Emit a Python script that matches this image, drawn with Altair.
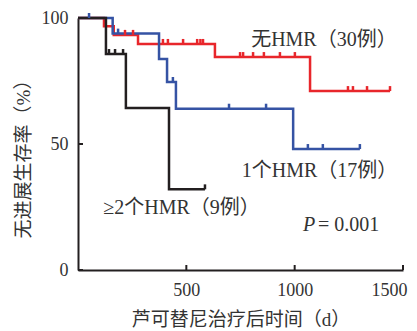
import altair as alt
import pandas as pd

# ---- data ----
groups = ["无HMR", "1个HMR", "≥2个HMR"]
colors = ["#e8262b", "#3553a4", "#231f20"]

# Kaplan-Meier step points (time in days, survival %)
red_t = [0, 120, 165, 277, 632, 1071, 1440]
red_s = [100, 96.7, 93.3, 89.7, 84.5, 71.0, 71.0]
blue_t = [0, 160, 374, 411, 452, 993, 1301]
blue_s = [100, 93.8, 83.7, 74.6, 64.0, 48.0, 48.0]
black_t = [0, 129, 221, 420, 586]
black_s = [100, 85.7, 64.3, 32.0, 32.0]

# censor marks
red_ct = [217, 254, 392, 415, 485, 550, 565, 577, 748, 762, 808, 858, 932, 1001, 1246, 1269, 1334, 1440]
red_cs = [93.3, 93.3, 89.7, 89.7, 89.7, 89.7, 89.7, 89.7, 84.5, 84.5, 84.5, 84.5, 84.5, 84.5, 71.0, 71.0, 71.0, 71.0]
blue_ct = [51, 185, 438, 697, 868, 1061, 1130, 1301]
blue_cs = [100, 93.8, 74.6, 64.0, 64.0, 48.0, 48.0, 48.0]
black_ct = [143, 171, 208, 586]
black_cs = [85.7, 85.7, 85.7, 32.0]

x_ticks = [500, 1000, 1500]
y_ticks = [0, 50, 100]

ann_text = ["无HMR（30例）", "1个HMR（17例）", "≥2个HMR（9例）"]
ann_x = [1135, 1115, 478]
ann_y = [91.3, 39.3, 24.6]
p_label = "P"
p_value = "= 0.001"
p_x = [1038, 1108]
p_y = 17.9

# ---- build tables ----
def rows(name, ts, ss):
    return [{"group": name, "t": t, "s": s} for t, s in zip(ts, ss)]

curves = pd.DataFrame(rows(groups[0], red_t, red_s) + rows(groups[1], blue_t, blue_s)
                      + rows(groups[2], black_t, black_s))
censors = pd.DataFrame(rows(groups[0], red_ct, red_cs) + rows(groups[1], blue_ct, blue_cs)
                       + rows(groups[2], black_ct, black_cs))
anns = pd.DataFrame({"label": ann_text, "t": ann_x, "s": ann_y})
xt = pd.DataFrame({"t": x_ticks})
yt = pd.DataFrame({"s": y_ticks})
pdf = pd.DataFrame({"t": p_x, "s": [p_y, p_y], "label": [p_label, p_value]})

FONT = "Liberation Serif, Noto Sans CJK SC"
W, H = 325, 252

xscale = alt.Scale(domain=[0, 1500], nice=False)
yscale = alt.Scale(domain=[0, 100], nice=False)
cscale = alt.Scale(domain=groups, range=colors)

xaxis = alt.Axis(values=x_ticks, format="d", title="芦可替尼治疗后时间（d）", ticks=False, grid=False,
                 labelFlush=True, labelFlushOffset=4, labelPadding=11, titlePadding=11,
                 titleFontSize=19)
yaxis = alt.Axis(values=y_ticks, format="d", title="无进展生存率（%）", ticks=False, grid=False,
                 labelPadding=10, titlePadding=8, titleFontSize=19, titleY=136)

lines = alt.Chart(curves).mark_line(interpolate="step-after", strokeWidth=2.5).encode(
    x=alt.X("t:Q", scale=xscale, axis=xaxis),
    y=alt.Y("s:Q", scale=yscale, axis=yaxis),
    color=alt.Color("group:N", scale=cscale, legend=None),
    detail="group:N",
)

marks = alt.Chart(censors).mark_point(shape="M0,-1L0,0", size=100, filled=False, strokeWidth=2.5, opacity=1).encode(
    x="t:Q", y="s:Q",
    color=alt.Color("group:N", scale=cscale, legend=None),
)

xticks = alt.Chart(xt).mark_rule(color="#231f20", strokeWidth=2).encode(
    x="t:Q", y=alt.value(H), y2=alt.value(H - 5))
yticks = alt.Chart(yt).mark_rule(color="#231f20", strokeWidth=2).encode(
    y="s:Q", x=alt.value(0), x2=alt.value(5))

labels = alt.Chart(anns).mark_text(font=FONT, fontSize=20, color="#333333", align="center",
                                   baseline="middle").encode(x="t:Q", y="s:Q", text="label:N")
ptext = alt.layer(
    alt.Chart(pdf.iloc[[0]]).mark_text(font=FONT, fontSize=20, fontStyle="italic", color="#333333",
                                       align="left", baseline="middle").encode(x="t:Q", y="s:Q", text="label:N"),
    alt.Chart(pdf.iloc[[1]]).mark_text(font=FONT, fontSize=20, color="#333333",
                                       align="left", baseline="middle").encode(x="t:Q", y="s:Q", text="label:N"),
)

chart = alt.layer(lines, marks, xticks, yticks, labels, ptext).properties(
    width=W, height=H,
    autosize=alt.AutoSizeParams(type="none"),
    padding={"left": 70, "top": 10, "right": 6, "bottom": 60},
).configure_view(stroke=None).configure_axis(
    domainColor="#231f20", domainWidth=2,
    labelFont=FONT, labelFontSize=18, labelColor="#333333",
    titleFont=FONT, titleColor="#333333", titleFontWeight="normal",
)

chart.save("out.html", embed_options={"renderer": "svg", "actions": False})
